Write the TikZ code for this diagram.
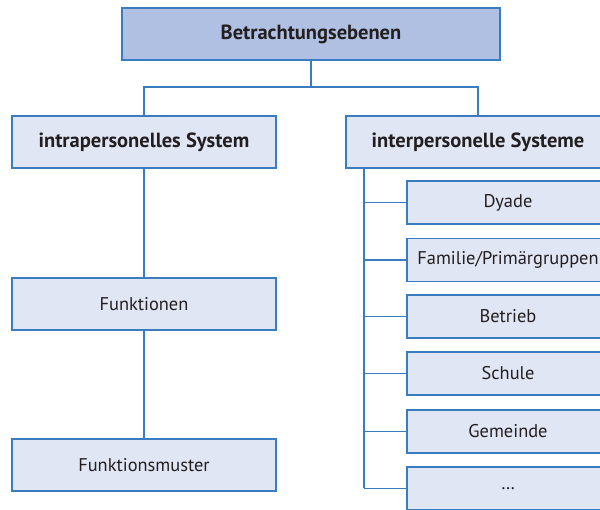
\documentclass[tikz,border=0pt]{standalone}
\usepackage{fontspec}
\setmainfont{PT Sans}
\usepackage{tikz}
\usetikzlibrary{positioning}
\definecolor{lineblue}{RGB}{58,124,192}
\definecolor{boxfill}{RGB}{224,230,244}
\definecolor{topfill}{RGB}{176,192,226}
\definecolor{textgray}{RGB}{35,31,32}

\begin{document}
\begin{tikzpicture}[
				x=1pt, y=-1pt,
				font=\fontsize{18.4}{22}\selectfont, text=textgray,
				levelbox/.style={rectangle, draw=lineblue, line width=1.2pt, fill=boxfill, inner sep=0pt, minimum width=264pt, minimum height=52pt},
				topbox/.style={levelbox, fill=topfill, minimum width=378pt, font=\fontsize{20.5}{24}\selectfont\bfseries},
				headbox/.style={levelbox, font=\fontsize{20.5}{24}\selectfont\bfseries},
				itembox/.style={levelbox, minimum width=202pt, minimum height=43pt},
				link/.style={draw=lineblue, line width=1.2pt},
				]
				\clip (0,0) rectangle (600,510);
				%Nodes
				\node[topbox]     (top)    at (311,34)    {Betrachtungsebenen};
				\node[headbox]    (intra)  at (144,142)   {intrapersonelles System};
				\node[headbox]    (inter)  at (478,142)   {interpersonelle Systeme};
				\node[levelbox]   (funk)   at (144,304)   {Funktionen};
				\node[levelbox]   (muster) at (144,465)   {Funktionsmuster};
				\node[itembox]    (dyade)  at (508,202.5) {Dyade};
				\node[itembox]    (fam)    at (508,260)   {Familie/Primärgruppen};
				\node[itembox]    (betr)   at (508,316.5) {Betrieb};
				\node[itembox]    (schule) at (508,373.5) {Schule};
				\node[itembox]    (gem)    at (508,431.5) {Gemeinde};
				\node[itembox]    (more)   at (508,488.5) {\dots};
				\coordinate       (split)  at (311,87);
				\coordinate       (rail)   at (364,168);

				%Lines
				\draw[link] (top.south) -- (split);
				\draw[link] (split) -| (intra.north);
				\draw[link] (split) -| (inter.north);
				\draw[link] (intra.south) -- (funk.north);
				\draw[link] (funk.south) -- (muster.north);
				\draw[link] (rail) -- (rail |- more.west);
				\foreach \n in {dyade,fam,betr,schule,gem,more}
					\draw[link] (rail |- \n.west) -- (\n.west);
			\end{tikzpicture}
\end{document}
